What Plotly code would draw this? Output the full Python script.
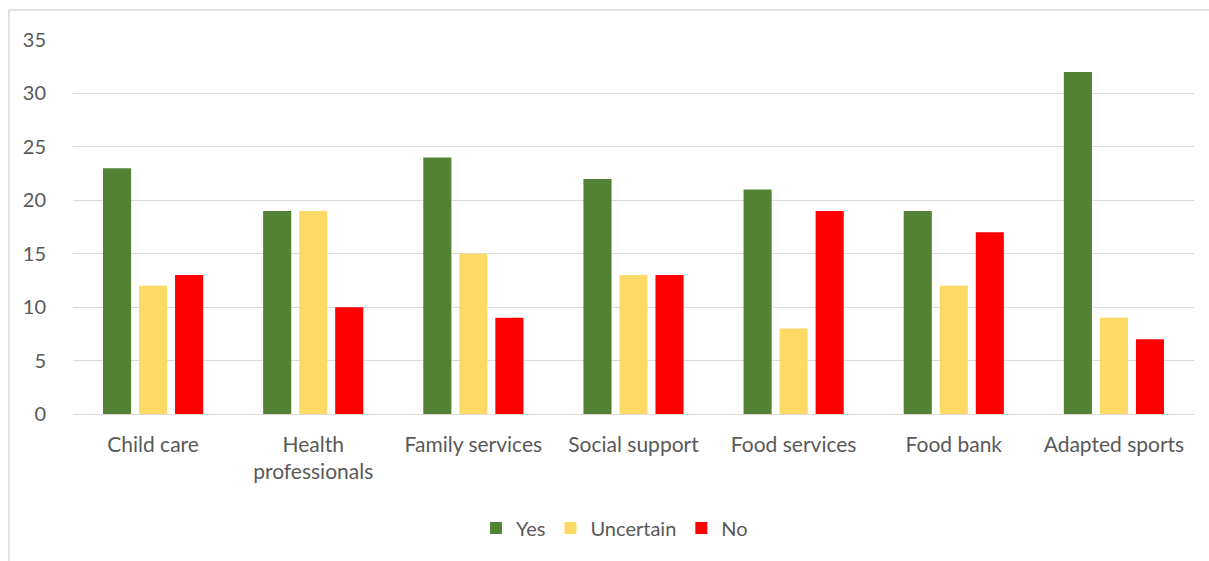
import plotly.graph_objects as go

categories = ["Child care", "Health<br>professionals", "Family services", "Social support",
              "Food services", "Food bank", "Adapted sports"]
yes = [23, 19, 24, 22, 21, 19, 32]
uncertain = [12, 19, 15, 13, 8, 12, 9]
no = [13, 10, 9, 13, 19, 17, 7]

series = [("Yes", yes, "#548235"), ("Uncertain", uncertain, "#FFD966"), ("No", no, "#FF0000")]

fig = go.Figure()
for name, vals, color in series:
    fig.add_trace(go.Bar(x=categories, y=vals, name=name, marker=dict(color=color, line_width=0)))

W, H = 1209, 561
L, R, T, B = 73, 15, 40, 147
pw, ph = W - L - R, H - T - B

fig.update_layout(
    width=W, height=H,
    margin=dict(l=L, r=R, t=T, b=B),
    plot_bgcolor="white", paper_bgcolor="white",
    barmode="group", bargap=0.325, bargroupgap=0.22,
    font=dict(family="Lato, Open Sans, sans-serif", size=20, color="#595959"),
    legend=dict(orientation="h", x=0.483, xanchor="center", y=-0.305, yanchor="middle",
                font=dict(size=20), itemwidth=30, traceorder="normal"),
    xaxis=dict(showgrid=False, showline=False, ticks="", tickfont=dict(size=21),
               ticklabelstandoff=16),
    yaxis=dict(range=[0, 35], dtick=5, showgrid=True, gridcolor="#D9D9D9", gridwidth=1,
               zeroline=True, zerolinecolor="#D9D9D9", zerolinewidth=1,
               showline=False, ticks="outside", ticklen=0, ticklabelstandoff=22,
               tickfont=dict(size=20)),
    shapes=[dict(type="rect", xref="paper", yref="paper",
                 x0=(9 - L) / pw, x1=(W + 20 - L) / pw,
                 y0=(H - T - B - (H + 20 - T)) / ph, y1=(H - B - 10) / ph,
                 line=dict(color="#D9D9D9", width=1.5), fillcolor="rgba(0,0,0,0)", layer="below")],
)

fig.write_html("out.html")
